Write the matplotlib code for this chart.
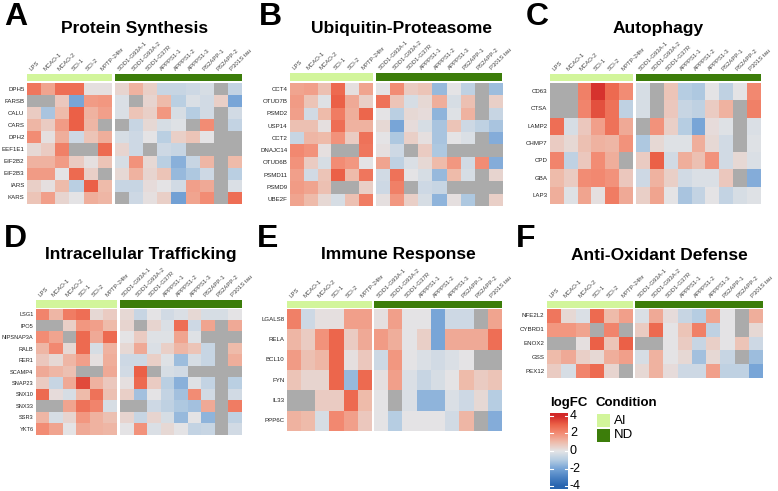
import numpy as np
import matplotlib
matplotlib.use("Agg")
import matplotlib.pyplot as plt
from matplotlib.colors import LinearSegmentedColormap, Normalize

plt.rcParams['font.family'] = ['Liberation Sans', 'DejaVu Sans']

nan = np.nan

# ---------------- data ----------------
conditions_ai = ["LPS", "MCAO-1", "MCAO-2", "SCI-1", "SCI-2", "MPTP-24hr"]
conditions_nd = ["SOD1-G93A-1", "SOD1-G93A-2", "SOD1-G37R", "APPPS1-1", "APPPS1-2",
                 "APPPS1-3", "PS2APP-1", "PS2APP-2", "P301S tau"]

genes_A = ["DPH5", "FARSB", "CALU", "CARS", "DPH2", "EEF1E1", "EIF2B2", "EIF2B3", "IARS", "KARS"]
values_A = [
    [2.5, 1.5, 2.7, 2.7, 0.1, 0.1, 0.4, 1.2, 0.5, -0.6, -0.6, -0.5, -0.3, nan, -0.7],
    [nan, nan, 0.7, -2.0, 1.7, 1.8, -0.2, nan, 0.4, 1.0, -0.9, -0.2, -0.4, 0.5, -2.0],
    [0.6, -1.2, 1.0, 3.0, 1.2, 1.6, -0.2, 0.8, 0.5, 1.8, -0.3, -1.0, -0.4, nan, -0.4],
    [1.1, 0.6, 1.7, 3.0, 1.1, nan, nan, -0.6, 0.3, -0.3, -0.1, nan, 2.0, nan, -0.7],
    [2.0, 0.1, 1.3, -0.5, 0.8, 1.3, -0.3, -0.5, 0.0, -0.9, 0.5, 0.8, 0.0, nan, nan],
    [0.3, 0.6, 2.3, nan, nan, 2.8, 0.4, -0.5, nan, -0.5, -0.6, nan, nan, nan, nan],
    [1.2, 1.2, 1.7, 0.6, 0.1, 0.8, -0.3, 1.9, 0.3, -0.9, -1.7, -0.6, 1.1, nan, 1.0],
    [1.7, 1.7, 0.0, 2.8, 0.5, nan, 0.3, 1.2, 0.4, 0.8, -1.5, -1.1, -0.5, nan, -0.9],
    [0.5, 0.1, 1.0, -0.9, 3.0, 1.0, -0.6, -0.6, 0.2, 0.0, -0.4, 1.6, 1.4, nan, -0.2],
    [0.8, 1.6, 0.4, 0.0, 1.3, 1.1, nan, -0.5, 0.1, 0.5, -2.1, 1.5, 2.0, nan, 2.7],
]

genes_B = ["CCT4", "OTUD7B", "PSMD2", "USP14", "CCT2", "DNAJC14", "OTUD6B", "PSMD11", "PSMD9", "UBE2F"]
values_B = [
    [1.5, 1.6, 0.9, 2.8, 0.1, 1.5, 0.0, 2.0, 0.6, 0.8, -1.5, 0.0, -0.8, nan, -1.4],
    [1.7, 0.8, -0.1, 3.0, 1.4, 0.5, 2.6, 0.8, -0.3, 0.3, 1.3, -0.3, 0.9, nan, 0.5],
    [1.6, -0.4, 1.0, 2.4, 1.3, 2.9, 0.0, -0.9, 0.3, 0.2, -1.6, -0.1, 1.2, nan, -0.6],
    [0.9, 0.9, 0.1, 2.7, 1.2, 1.2, 0.3, -2.0, 0.2, -0.3, -1.2, 0.8, -0.5, -0.8, -1.2],
    [-0.6, 1.1, 1.0, 1.9, 0.6, 2.6, 0.0, -1.1, 0.5, 0.1, -1.2, 0.0, -0.2, nan, -1.8],
    [2.1, 1.9, 0.1, nan, nan, 2.5, 0.1, -0.5, nan, 0.6, -1.1, nan, nan, nan, nan],
    [1.9, 0.6, -0.3, 2.0, 1.8, 0.0, 1.5, -0.8, -0.2, 0.3, 1.0, 1.8, -0.4, 2.0, -1.8],
    [1.6, -0.4, 0.8, 3.0, 1.0, 2.5, -0.4, 2.6, 0.0, -0.3, -1.5, 1.0, -0.3, nan, 0.4],
    [1.7, 1.5, 0.9, nan, nan, 0.5, -0.5, 2.3, nan, -0.5, -0.6, nan, nan, nan, nan],
    [1.5, 1.0, 0.3, -0.3, 0.9, 2.4, 0.1, 1.8, 0.5, -0.3, -1.6, 0.1, -1.1, nan, 0.5],
]

genes_C = ["CD63", "CTSA", "LAMP2", "CHMP7", "CPD", "GBA", "LAP3"]
values_C = [
    [nan, nan, 2.3, 3.8, 2.8, 2.0, -0.3, nan, 0.8, -1.0, -1.1, 0.0, -0.8, 0.0, 2.1],
    [nan, nan, 2.2, 3.3, 2.6, -0.8, -0.3, nan, 0.7, -0.6, -0.8, 0.6, 1.2, nan, 2.3],
    [2.7, -0.3, 0.7, 1.6, 2.6, 1.4, nan, 1.9, 0.5, -1.0, -2.0, 0.2, -0.1, nan, -0.2],
    [0.6, 0.3, 0.9, 1.2, 1.1, 1.9, -1.1, 0.3, -0.1, -0.1, 1.3, 0.3, -0.4, nan, -0.1],
    [2.2, -0.8, 0.7, 2.0, 1.3, nan, 0.6, 3.0, -0.4, 1.3, 0.9, 1.9, -0.4, 0.3, -0.2],
    [1.0, 0.6, 2.0, 2.1, 1.9, 0.7, -0.5, 1.2, 0.5, -0.4, -0.2, -0.2, 0.7, nan, -1.8],
    [1.3, -0.1, 1.5, 0.1, 2.4, 1.4, 0.5, 1.5, 0.0, -1.2, -0.7, 0.0, -0.7, -0.3, -0.1],
]

genes_D = ["LSG1", "IPO5", "NIPSNAP3A", "RALB", "RER1", "SCAMP4", "SNAP23", "SNX10", "SNX33", "SSR3", "YKT6"]
values_D = [
    [2.2, 1.1, 2.4, 2.7, 0.3, 0.6, 0.3, -0.6, 0.0, -0.4, -0.2, 0.3, -0.3, -0.3, 0.0],
    [nan, nan, 0.5, 1.8, 1.6, 1.0, 0.4, nan, 0.4, -0.2, 2.7, -0.5, 1.5, nan, 1.4],
    [2.0, 1.5, nan, 2.8, 1.4, 2.8, 0.0, 0.6, -0.1, -0.1, 1.5, -0.1, nan, nan, nan],
    [1.1, 2.1, 0.3, 2.8, -0.3, 1.2, 0.3, 1.4, -0.2, 0.5, 1.1, 0.8, -0.6, nan, 1.0],
    [0.7, 0.3, 1.1, 1.6, 0.1, 1.3, -0.5, -0.5, 0.5, -0.1, -1.4, -0.3, -0.6, nan, 1.3],
    [1.4, 1.1, 0.9, nan, nan, 1.4, -0.4, 3.0, nan, -0.3, -0.4, nan, nan, nan, nan],
    [0.6, -0.6, 1.4, 3.4, 1.2, 0.7, 0.1, 2.8, 0.6, -0.9, -1.7, -0.1, -0.7, nan, -0.9],
    [2.8, 0.2, -0.3, 1.0, 2.6, 0.9, 0.5, -1.3, 0.0, -0.7, -1.3, 2.0, -0.4, nan, -0.4],
    [nan, nan, 1.5, 2.6, 2.2, -0.3, nan, nan, -0.5, -0.8, -1.1, -1.3, 1.4, nan, 2.4],
    [1.1, -0.3, 0.4, 1.8, 1.2, 0.9, 0.4, -0.6, 0.4, -0.3, -1.5, 0.0, -1.6, nan, -0.8],
    [2.0, 1.5, 0.0, 1.4, 1.2, 1.1, 0.0, 1.9, -0.2, 0.3, 0.0, -0.7, -0.6, nan, -0.4],
]

genes_E = ["LGALS8", "RELA", "BCL10", "FYN", "IL33", "PPP6C"]
values_E = [
    [2.3, -0.5, 0.1, 0.1, 1.6, 1.6, 0.1, 1.6, 0.0, 0.0, -2.0, -0.5, -0.5, nan, 1.5],
    [1.1, 0.6, 1.9, 2.9, 0.6, 1.4, 1.7, 1.3, 0.0, 0.5, -2.0, 1.4, 1.4, 1.4, 2.7],
    [1.7, 0.9, 1.1, 2.9, 0.1, 0.7, -0.5, 1.8, 0.0, -0.2, -0.4, -0.2, 0.0, nan, nan],
    [0.8, 0.4, 0.4, 2.9, -1.5, 2.8, 0.1, 1.6, -0.2, -0.6, -0.3, 0.0, 1.0, 0.6, 0.8],
    [nan, nan, 0.6, 0.6, 2.8, 1.0, 0.0, nan, -0.2, -1.6, -1.6, -0.2, -0.5, 0.3, -1.0],
    [1.2, 1.0, -0.3, 2.1, 1.6, 0.7, 0.0, -1.0, 0.0, 0.0, 0.0, -0.4, 1.1, nan, -1.8],
]

genes_F = ["NFE2L2", "CYBRD1", "ENOX2", "GSS", "PEX12"]
values_F = [
    [2.5, 0.3, -0.2, 2.8, 1.0, 1.6, -0.2, 1.4, 0.2, -0.6, -1.0, 1.5, 0.0, nan, 1.3],
    [1.8, 1.8, 1.5, nan, 2.2, nan, 0.6, 2.8, 0.0, 0.8, 2.3, -0.8, 0.0, nan, 0.3],
    [nan, nan, 0.1, 3.0, 0.8, 3.0, nan, nan, 0.0, 0.6, -0.6, 0.5, 0.0, 0.8, -0.5],
    [1.0, 1.4, 0.5, 0.3, 1.3, 1.6, -0.3, 1.2, 0.0, 0.3, -1.3, 0.3, -0.6, nan, -1.4],
    [0.6, -0.3, 2.2, 2.8, 0.4, nan, 0.3, 1.2, 0.2, -0.5, -0.5, 1.6, -0.8, -0.8, -2.0],
]

titles = ["Protein Synthesis", "Ubiquitin-Proteasome", "Autophagy",
          "Intracellular Trafficking", "Immune Response", "Anti-Oxidant Defense"]
letters = ["A", "B", "C", "D", "E", "F"]
legend_ticks = [4, 2, 0, -2, -4]
condition_labels = ["AI", "ND"]

# ---------------- style ----------------
W, H = 778, 491
fig = plt.figure(figsize=(W / 100, H / 100), dpi=100)
fig.patch.set_facecolor("white")

stops = [(-4, (40, 100, 175)), (-3, (75, 130, 195)), (-2, (120, 165, 215)),
         (-1, (182, 205, 226)), (0, (228, 228, 230)), (1, (238, 188, 172)),
         (2, (243, 142, 118)), (3, (236, 98, 72)), (4, (210, 40, 40))]
cmap = LinearSegmentedColormap.from_list(
    "logfc", [((v + 4) / 8, tuple(c / 255 for c in col)) for v, col in stops])
cmap.set_bad("#ABABAB")
norm = Normalize(-4, 4)
AI_COL = "#D2F59B"
ND_COL = "#3C7D0A"


def px_axes(x0, y0, x1, y1):
    return fig.add_axes([x0 / W, 1 - y1 / H, (x1 - x0) / W, (y1 - y0) / H])


def draw_block(x0, y0, x1, y1, data):
    ax = px_axes(x0, y0, x1, y1)
    arr = np.ma.masked_invalid(np.array(data, dtype=float))
    ax.imshow(arr, cmap=cmap, norm=norm, aspect="auto", interpolation="nearest")
    ax.set_axis_off()
    return ax


def draw_annot(x0, y0, x1, y1, color):
    ax = px_axes(x0, y0, x1, y1)
    ax.set_facecolor(color)
    ax.set_xticks([]); ax.set_yticks([])
    for s in ax.spines.values():
        s.set_visible(False)


panels = [
    dict(genes=genes_A, vals=values_A, L=(27, 112), R=(115, 242), Y=(83, 204), A=(74, 81),
         tc=(135, 29), lp=(4, 2), rfs=4.4),
    dict(genes=genes_B, vals=values_B, L=(290, 373), R=(376, 502), Y=(83, 206), A=(73, 81),
         tc=(401, 29), lp=(259, 2), rfs=4.4),
    dict(genes=genes_C, vals=values_C, L=(550, 633), R=(636, 761), Y=(83, 204), A=(74, 81),
         tc=(658, 29), lp=(526, 2), rfs=4.4),
    dict(genes=genes_D, vals=values_D, L=(36, 117), R=(120, 242), Y=(309, 435), A=(300, 308),
         tc=(141, 255), lp=(4, 224), rfs=4.1),
    dict(genes=genes_E, vals=values_E, L=(287, 372), R=(374, 502), Y=(309, 431), A=(301, 308),
         tc=(398, 255), lp=(257, 224), rfs=4.4),
    dict(genes=genes_F, vals=values_F, L=(547, 633), R=(635, 763), Y=(309, 378), A=(301, 308),
         tc=(659, 255), lp=(516, 224), rfs=4.4),
]

nai = len(conditions_ai)
for i, p in enumerate(panels):
    vals = np.array(p["vals"], dtype=float)
    y0, y1 = p["Y"]
    draw_block(p["L"][0], y0, p["L"][1], y1, vals[:, :nai])
    draw_block(p["R"][0], y0, p["R"][1], y1, vals[:, nai:])
    draw_annot(p["L"][0], p["A"][0], p["L"][1], p["A"][1], AI_COL)
    draw_annot(p["R"][0], p["A"][0], p["R"][1], p["A"][1], ND_COL)
    for blk, labels in ((p["L"], conditions_ai), (p["R"], conditions_nd)):
        cw = (blk[1] - blk[0]) / len(labels)
        for j, lab in enumerate(labels):
            cx = blk[0] + cw * (j + 0.5) - 2
            fig.text(cx / W, 1 - (p["A"][0] - 2) / H, lab, rotation=45,
                     rotation_mode="anchor", ha="left", va="bottom",
                     fontsize=4.3, color="#444444")
    nrow = len(p["genes"])
    rh = (y1 - y0) / nrow
    for r, g in enumerate(p["genes"]):
        cy = y0 + rh * (r + 0.5)
        fig.text((p["L"][0] - 2.5) / W, 1 - cy / H, g, ha="right", va="center",
                 fontsize=p["rfs"], color="#222222")
    fig.text(p["tc"][0] / W, 1 - p["tc"][1] / H, titles[i], ha="center", va="center",
             fontsize=12.5, fontweight="bold", color="black")
    fig.text(p["lp"][0] / W, 1 - p["lp"][1] / H, letters[i], ha="left", va="top",
             fontsize=23, fontweight="bold", color="black")

# ---------------- legends ----------------
fig.text(550 / W, 1 - 403 / H, "logFC", ha="left", va="center", fontsize=9.5, fontweight="bold")
cax = px_axes(550, 413, 568, 489)
grad = np.linspace(4.3, -4.3, 200).reshape(-1, 1)
cax.imshow(grad, cmap=cmap, norm=norm, aspect="auto", extent=(0, 1, -4.3, 4.3))
cax.set_xlim(0, 1); cax.set_ylim(-4.3, 4.3)
cax.set_xticks([]); cax.set_yticks([])
for s in cax.spines.values():
    s.set_visible(False)
for t in legend_ticks:
    cax.plot([0, 0.18], [t, t], color="white", lw=0.8)
    cax.plot([0.82, 1], [t, t], color="white", lw=0.8)
    yy = 489 - (t + 4.3) / 8.6 * (489 - 413)
    fig.text(570 / W, 1 - yy / H, str(t), ha="left", va="center", fontsize=9)

fig.text(596 / W, 1 - 403 / H, "Condition", ha="left", va="center", fontsize=9.5, fontweight="bold")
for k, (lab, col) in enumerate(zip(condition_labels, [AI_COL, ND_COL])):
    ya = 414 + k * 14.5
    bx = px_axes(597, ya, 610, ya + 13)
    bx.set_facecolor(col)
    bx.set_xticks([]); bx.set_yticks([])
    for s in bx.spines.values():
        s.set_visible(False)
    fig.text(614 / W, 1 - (ya + 6.5) / H, lab, ha="left", va="center", fontsize=9.5)

fig.savefig("out.png", dpi=100, facecolor="white")
